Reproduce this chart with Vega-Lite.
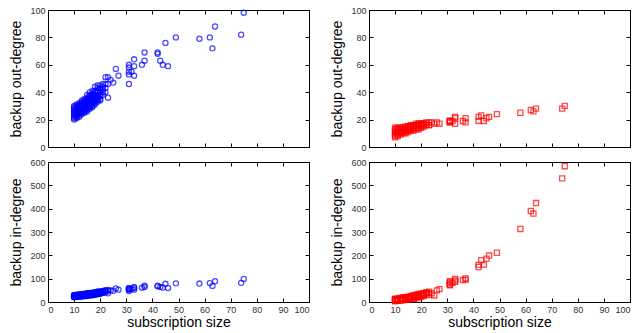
{
  "$schema": "https://vega.github.io/schema/vega-lite/v6.json",
  "padding": {"left": 9, "top": 5, "right": 5, "bottom": 0},
  "datasets": {
    "symmetric": [
      {"size":10,"outdeg":20,"indeg":21},{"size":10,"outdeg":21,"indeg":20},{"size":10,"outdeg":22,"indeg":23},{"size":10,"outdeg":24,"indeg":24},{"size":10,"outdeg":26,"indeg":25},{"size":10,"outdeg":27,"indeg":28},{"size":10,"outdeg":28,"indeg":27},{"size":10,"outdeg":29,"indeg":30},{"size":10,"outdeg":30,"indeg":29},{"size":10,"outdeg":25,"indeg":26},{"size":10,"outdeg":23,"indeg":22},
      {"size":11,"outdeg":21,"indeg":22},{"size":11,"outdeg":22,"indeg":21},{"size":11,"outdeg":23,"indeg":24},{"size":11,"outdeg":24,"indeg":23},{"size":11,"outdeg":25,"indeg":26},{"size":11,"outdeg":27,"indeg":28},{"size":11,"outdeg":28,"indeg":27},{"size":11,"outdeg":29,"indeg":30},{"size":11,"outdeg":30,"indeg":29},{"size":11,"outdeg":31,"indeg":31},{"size":11,"outdeg":26,"indeg":25},
      {"size":12,"outdeg":22,"indeg":23},{"size":12,"outdeg":23,"indeg":22},{"size":12,"outdeg":24,"indeg":25},{"size":12,"outdeg":25,"indeg":24},{"size":12,"outdeg":26,"indeg":27},{"size":12,"outdeg":28,"indeg":29},{"size":12,"outdeg":29,"indeg":28},{"size":12,"outdeg":30,"indeg":31},{"size":12,"outdeg":31,"indeg":30},{"size":12,"outdeg":32,"indeg":33},{"size":12,"outdeg":27,"indeg":27},
      {"size":13,"outdeg":24,"indeg":25},{"size":13,"outdeg":25,"indeg":24},{"size":13,"outdeg":26,"indeg":27},{"size":13,"outdeg":27,"indeg":26},{"size":13,"outdeg":28,"indeg":29},{"size":13,"outdeg":30,"indeg":31},{"size":13,"outdeg":31,"indeg":30},{"size":13,"outdeg":32,"indeg":32},{"size":13,"outdeg":33,"indeg":33},{"size":13,"outdeg":34,"indeg":34},{"size":13,"outdeg":29,"indeg":28},
      {"size":14,"outdeg":25,"indeg":26},{"size":14,"outdeg":26,"indeg":25},{"size":14,"outdeg":27,"indeg":28},{"size":14,"outdeg":28,"indeg":27},{"size":14,"outdeg":29,"indeg":30},{"size":14,"outdeg":31,"indeg":32},{"size":14,"outdeg":32,"indeg":31},{"size":14,"outdeg":33,"indeg":34},{"size":14,"outdeg":34,"indeg":33},{"size":14,"outdeg":35,"indeg":36},{"size":14,"outdeg":30,"indeg":29},
      {"size":15,"outdeg":26,"indeg":27},{"size":15,"outdeg":27,"indeg":26},{"size":15,"outdeg":28,"indeg":29},{"size":15,"outdeg":29,"indeg":28},{"size":15,"outdeg":31,"indeg":31},{"size":15,"outdeg":32,"indeg":32},{"size":15,"outdeg":33,"indeg":34},{"size":15,"outdeg":34,"indeg":33},{"size":15,"outdeg":35,"indeg":36},{"size":15,"outdeg":36,"indeg":37},{"size":15,"outdeg":38,"indeg":38},{"size":15,"outdeg":30,"indeg":31},
      {"size":16,"outdeg":28,"indeg":29},{"size":16,"outdeg":29,"indeg":28},{"size":16,"outdeg":30,"indeg":31},{"size":16,"outdeg":31,"indeg":30},{"size":16,"outdeg":32,"indeg":33},{"size":16,"outdeg":34,"indeg":35},{"size":16,"outdeg":35,"indeg":34},{"size":16,"outdeg":36,"indeg":36},{"size":16,"outdeg":37,"indeg":37},{"size":16,"outdeg":38,"indeg":38},{"size":16,"outdeg":40,"indeg":39},{"size":16,"outdeg":33,"indeg":33},
      {"size":17,"outdeg":29,"indeg":30},{"size":17,"outdeg":30,"indeg":29},{"size":17,"outdeg":31,"indeg":31},{"size":17,"outdeg":32,"indeg":32},{"size":17,"outdeg":33,"indeg":33},{"size":17,"outdeg":34,"indeg":35},{"size":17,"outdeg":35,"indeg":34},{"size":17,"outdeg":36,"indeg":37},{"size":17,"outdeg":37,"indeg":36},{"size":17,"outdeg":38,"indeg":39},{"size":17,"outdeg":39,"indeg":38},{"size":17,"outdeg":41,"indeg":40},
      {"size":18,"outdeg":31,"indeg":32},{"size":18,"outdeg":32,"indeg":31},{"size":18,"outdeg":33,"indeg":33},{"size":18,"outdeg":34,"indeg":34},{"size":18,"outdeg":35,"indeg":35},{"size":18,"outdeg":36,"indeg":37},{"size":18,"outdeg":37,"indeg":36},{"size":18,"outdeg":38,"indeg":39},{"size":18,"outdeg":40,"indeg":40},{"size":18,"outdeg":41,"indeg":41},{"size":18,"outdeg":44,"indeg":42},
      {"size":19,"outdeg":33,"indeg":34},{"size":19,"outdeg":34,"indeg":33},{"size":19,"outdeg":35,"indeg":35},{"size":19,"outdeg":36,"indeg":36},{"size":19,"outdeg":37,"indeg":37},{"size":19,"outdeg":38,"indeg":39},{"size":19,"outdeg":40,"indeg":41},{"size":19,"outdeg":41,"indeg":40},{"size":19,"outdeg":43,"indeg":43},{"size":19,"outdeg":45,"indeg":45},
      {"size":20,"outdeg":34,"indeg":35},{"size":20,"outdeg":35,"indeg":36},{"size":20,"outdeg":37,"indeg":38},{"size":20,"outdeg":38,"indeg":37},{"size":20,"outdeg":40,"indeg":40},{"size":20,"outdeg":42,"indeg":42},{"size":20,"outdeg":43,"indeg":43},{"size":20,"outdeg":45,"indeg":46},
      {"size":21,"outdeg":38,"indeg":39},{"size":21,"outdeg":40,"indeg":40},{"size":21,"outdeg":42,"indeg":42},{"size":21,"outdeg":44,"indeg":45},{"size":21,"outdeg":46,"indeg":47},
      {"size":22,"outdeg":40,"indeg":41},{"size":22,"outdeg":43,"indeg":44},{"size":22,"outdeg":46,"indeg":48},{"size":22,"outdeg":51,"indeg":51},
      {"size":23,"outdeg":36,"indeg":37},{"size":23,"outdeg":46,"indeg":47},{"size":23,"outdeg":51,"indeg":52},
      {"size":24,"outdeg":49,"indeg":50},{"size":25,"outdeg":47,"indeg":48},{"size":26,"outdeg":57,"indeg":58},{"size":27,"outdeg":52,"indeg":53},
      {"size":31,"outdeg":60,"indeg":58},{"size":31,"outdeg":58,"indeg":60},{"size":31,"outdeg":55,"indeg":55},{"size":31,"outdeg":53,"indeg":52},{"size":31,"outdeg":46,"indeg":47},
      {"size":32,"outdeg":55,"indeg":56},{"size":33,"outdeg":64,"indeg":65},{"size":33,"outdeg":59,"indeg":60},{"size":33,"outdeg":52,"indeg":53},
      {"size":36,"outdeg":60,"indeg":61},{"size":37,"outdeg":69,"indeg":70},{"size":37,"outdeg":63,"indeg":64},
      {"size":42,"outdeg":69,"indeg":70},{"size":42,"outdeg":68,"indeg":67},{"size":43,"outdeg":63,"indeg":64},{"size":44,"outdeg":60,"indeg":62},
      {"size":45,"outdeg":76,"indeg":78},{"size":46,"outdeg":59,"indeg":60},{"size":49,"outdeg":80,"indeg":80},
      {"size":58,"outdeg":79,"indeg":79},{"size":62,"outdeg":80,"indeg":81},{"size":63,"outdeg":72,"indeg":69},{"size":64,"outdeg":88,"indeg":89},
      {"size":74,"outdeg":82,"indeg":82},{"size":75,"outdeg":98,"indeg":99}
    ],
    "asymmetric": [
      {"size":10,"outdeg":7,"indeg":3},{"size":10,"outdeg":8,"indeg":5},{"size":10,"outdeg":9,"indeg":6},{"size":10,"outdeg":10,"indeg":8},{"size":10,"outdeg":11,"indeg":10},{"size":10,"outdeg":12,"indeg":12},{"size":10,"outdeg":13,"indeg":14},{"size":10,"outdeg":14,"indeg":9},
      {"size":11,"outdeg":8,"indeg":5},{"size":11,"outdeg":9,"indeg":7},{"size":11,"outdeg":10,"indeg":9},{"size":11,"outdeg":11,"indeg":11},{"size":11,"outdeg":12,"indeg":13},{"size":11,"outdeg":13,"indeg":15},{"size":11,"outdeg":14,"indeg":10},
      {"size":12,"outdeg":9,"indeg":6},{"size":12,"outdeg":10,"indeg":8},{"size":12,"outdeg":11,"indeg":11},{"size":12,"outdeg":12,"indeg":13},{"size":12,"outdeg":13,"indeg":15},{"size":12,"outdeg":14,"indeg":17},{"size":12,"outdeg":11,"indeg":12},
      {"size":13,"outdeg":10,"indeg":7},{"size":13,"outdeg":11,"indeg":10},{"size":13,"outdeg":12,"indeg":13},{"size":13,"outdeg":13,"indeg":15},{"size":13,"outdeg":14,"indeg":17},{"size":13,"outdeg":14,"indeg":19},{"size":13,"outdeg":12,"indeg":14},
      {"size":14,"outdeg":10,"indeg":9},{"size":14,"outdeg":11,"indeg":12},{"size":14,"outdeg":12,"indeg":14},{"size":14,"outdeg":13,"indeg":17},{"size":14,"outdeg":14,"indeg":19},{"size":14,"outdeg":15,"indeg":21},{"size":14,"outdeg":13,"indeg":15},
      {"size":15,"outdeg":11,"indeg":10},{"size":15,"outdeg":12,"indeg":13},{"size":15,"outdeg":13,"indeg":16},{"size":15,"outdeg":14,"indeg":19},{"size":15,"outdeg":15,"indeg":21},{"size":15,"outdeg":15,"indeg":23},{"size":15,"outdeg":13,"indeg":17},
      {"size":16,"outdeg":12,"indeg":12},{"size":16,"outdeg":13,"indeg":15},{"size":16,"outdeg":14,"indeg":18},{"size":16,"outdeg":15,"indeg":21},{"size":16,"outdeg":15,"indeg":23},{"size":16,"outdeg":16,"indeg":26},{"size":16,"outdeg":14,"indeg":19},
      {"size":17,"outdeg":12,"indeg":14},{"size":17,"outdeg":13,"indeg":17},{"size":17,"outdeg":14,"indeg":20},{"size":17,"outdeg":15,"indeg":23},{"size":17,"outdeg":16,"indeg":26},{"size":17,"outdeg":16,"indeg":28},
      {"size":18,"outdeg":13,"indeg":16},{"size":18,"outdeg":14,"indeg":19},{"size":18,"outdeg":15,"indeg":23},{"size":18,"outdeg":16,"indeg":26},{"size":18,"outdeg":16,"indeg":29},{"size":18,"outdeg":17,"indeg":31},
      {"size":19,"outdeg":13,"indeg":19},{"size":19,"outdeg":14,"indeg":22},{"size":19,"outdeg":15,"indeg":26},{"size":19,"outdeg":16,"indeg":29},{"size":19,"outdeg":17,"indeg":32},{"size":19,"outdeg":17,"indeg":34},
      {"size":20,"outdeg":14,"indeg":22},{"size":20,"outdeg":15,"indeg":26},{"size":20,"outdeg":16,"indeg":29},{"size":20,"outdeg":17,"indeg":33},{"size":20,"outdeg":17,"indeg":36},
      {"size":21,"outdeg":15,"indeg":27},{"size":21,"outdeg":16,"indeg":31},{"size":21,"outdeg":17,"indeg":35},{"size":21,"outdeg":17,"indeg":38},
      {"size":22,"outdeg":16,"indeg":33},{"size":22,"outdeg":17,"indeg":40},{"size":22,"outdeg":18,"indeg":42},
      {"size":23,"outdeg":16,"indeg":30},{"size":23,"outdeg":18,"indeg":38},{"size":23,"outdeg":16,"indeg":44},
      {"size":24,"outdeg":18,"indeg":37},{"size":25,"outdeg":17,"indeg":28},{"size":26,"outdeg":18,"indeg":50},{"size":27,"outdeg":17,"indeg":55},
      {"size":31,"outdeg":19,"indeg":89},{"size":31,"outdeg":18,"indeg":72},{"size":31,"outdeg":19,"indeg":80},{"size":31,"outdeg":18,"indeg":75},{"size":31,"outdeg":19,"indeg":85},
      {"size":32,"outdeg":19,"indeg":82},{"size":33,"outdeg":22,"indeg":99},{"size":33,"outdeg":17,"indeg":87},{"size":33,"outdeg":21,"indeg":92},
      {"size":36,"outdeg":19,"indeg":94},{"size":37,"outdeg":21,"indeg":101},{"size":37,"outdeg":18,"indeg":96},
      {"size":42,"outdeg":22,"indeg":159},{"size":42,"outdeg":19,"indeg":150},{"size":43,"outdeg":23,"indeg":179},{"size":44,"outdeg":19,"indeg":160},
      {"size":45,"outdeg":21,"indeg":186},{"size":46,"outdeg":22,"indeg":199},{"size":49,"outdeg":24,"indeg":211},
      {"size":58,"outdeg":25,"indeg":313},{"size":62,"outdeg":27,"indeg":390},{"size":63,"outdeg":26,"indeg":379},{"size":64,"outdeg":28,"indeg":424},
      {"size":74,"outdeg":28,"indeg":530},{"size":75,"outdeg":30,"indeg":582}
    ]
  },
  "columns": 2,
  "spacing": {"row": 4, "column": 20},
  "concat": [
    {
      "width": 261, "height": 137,
      "data": {"name": "symmetric"},
      "layer": [
        {"mark": {"type": "point", "shape": "circle", "filled": false, "color": "#0000ff", "size": 26, "strokeWidth": 1.3},
         "encoding": {
           "x": {"field": "size", "type": "quantitative", "scale": {"domain": [0, 100], "nice": false}, "axis": {"values": [0,10,20,30,40,50,60,70,80,90,100], "labels": false, "title": null}},
           "y": {"field": "outdeg", "type": "quantitative", "scale": {"domain": [0, 100], "nice": false}, "axis": {"values": [0,20,40,60,80,100], "title": "backup out-degree", "titlePadding": 6}}
         }},
        {"mark": {"type": "point", "opacity": 0},
         "encoding": {
           "x": {"field": "size", "type": "quantitative", "axis": {"orient": "top", "values": [0,10,20,30,40,50,60,70,80,90,100], "labels": false, "title": null}},
           "y": {"field": "outdeg", "type": "quantitative", "axis": {"orient": "right", "values": [0,20,40,60,80,100], "labels": false, "title": null}}
         }}
      ],
      "resolve": {"axis": {"x": "independent", "y": "independent"}}
    },
    {
      "width": 261, "height": 137,
      "data": {"name": "asymmetric"},
      "layer": [
        {"mark": {"type": "point", "shape": "square", "filled": false, "color": "#ff0000", "size": 26, "strokeWidth": 1.3},
         "encoding": {
           "x": {"field": "size", "type": "quantitative", "scale": {"domain": [0, 100], "nice": false}, "axis": {"values": [0,10,20,30,40,50,60,70,80,90,100], "labels": false, "title": null}},
           "y": {"field": "outdeg", "type": "quantitative", "scale": {"domain": [0, 100], "nice": false}, "axis": {"values": [0,20,40,60,80,100], "title": "backup out-degree", "titlePadding": 6}}
         }},
        {"mark": {"type": "point", "opacity": 0},
         "encoding": {
           "x": {"field": "size", "type": "quantitative", "axis": {"orient": "top", "values": [0,10,20,30,40,50,60,70,80,90,100], "labels": false, "title": null}},
           "y": {"field": "outdeg", "type": "quantitative", "axis": {"orient": "right", "values": [0,20,40,60,80,100], "labels": false, "title": null}}
         }}
      ],
      "resolve": {"axis": {"x": "independent", "y": "independent"}}
    },
    {
      "width": 261, "height": 140,
      "data": {"name": "symmetric"},
      "layer": [
        {"mark": {"type": "point", "shape": "circle", "filled": false, "color": "#0000ff", "size": 26, "strokeWidth": 1.3},
         "encoding": {
           "x": {"field": "size", "type": "quantitative", "scale": {"domain": [0, 100], "nice": false}, "axis": {"values": [0,10,20,30,40,50,60,70,80,90,100], "title": "subscription size", "titlePadding": 1}},
           "y": {"field": "indeg", "type": "quantitative", "scale": {"domain": [0, 600], "nice": false}, "axis": {"values": [0,100,200,300,400,500,600], "title": "backup in-degree", "titlePadding": 6}}
         }},
        {"mark": {"type": "point", "opacity": 0},
         "encoding": {
           "x": {"field": "size", "type": "quantitative", "axis": {"orient": "top", "values": [0,10,20,30,40,50,60,70,80,90,100], "labels": false, "title": null}},
           "y": {"field": "indeg", "type": "quantitative", "axis": {"orient": "right", "values": [0,100,200,300,400,500,600], "labels": false, "title": null}}
         }}
      ],
      "resolve": {"axis": {"x": "independent", "y": "independent"}}
    },
    {
      "width": 261, "height": 140,
      "data": {"name": "asymmetric"},
      "layer": [
        {"mark": {"type": "point", "shape": "square", "filled": false, "color": "#ff0000", "size": 26, "strokeWidth": 1.3},
         "encoding": {
           "x": {"field": "size", "type": "quantitative", "scale": {"domain": [0, 100], "nice": false}, "axis": {"values": [0,10,20,30,40,50,60,70,80,90,100], "title": "subscription size", "titlePadding": 1}},
           "y": {"field": "indeg", "type": "quantitative", "scale": {"domain": [0, 600], "nice": false}, "axis": {"values": [0,100,200,300,400,500,600], "title": "backup in-degree", "titlePadding": 6}}
         }},
        {"mark": {"type": "point", "opacity": 0},
         "encoding": {
           "x": {"field": "size", "type": "quantitative", "axis": {"orient": "top", "values": [0,10,20,30,40,50,60,70,80,90,100], "labels": false, "title": null}},
           "y": {"field": "indeg", "type": "quantitative", "axis": {"orient": "right", "values": [0,100,200,300,400,500,600], "labels": false, "title": null}}
         }}
      ],
      "resolve": {"axis": {"x": "independent", "y": "independent"}}
    }
  ],
  "config": {
    "font": "Liberation Sans",
    "view": {"stroke": "black", "strokeWidth": 1},
    "axis": {
      "grid": false,
      "domainColor": "black",
      "tickColor": "black",
      "tickSize": -4,
      "labelPadding": 7,
      "labelFont": "Liberation Sans",
      "labelFontSize": 9,
      "labelColor": "#333333",
      "titleFont": "Liberation Sans",
      "titleFontSize": 14,
      "titleFontWeight": "normal",
      "titleColor": "black",
      "titlePadding": 4
    }
  }
}
